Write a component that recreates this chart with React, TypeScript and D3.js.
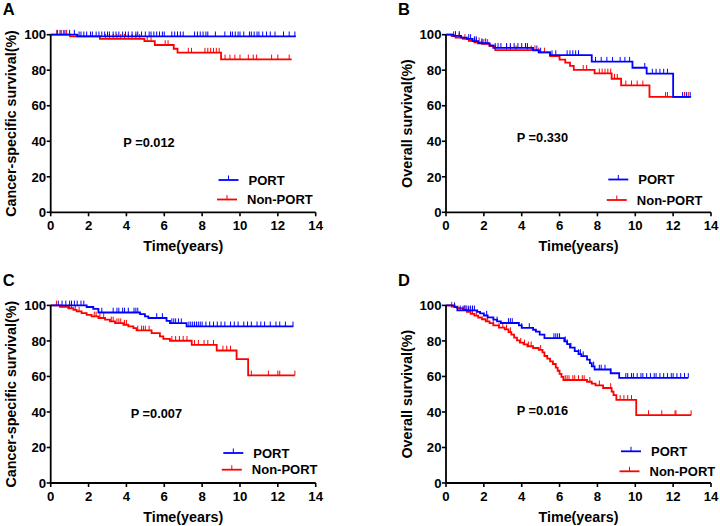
import React from 'react';
import * as d3 from 'd3';

type Step = [number, number];

// shared axis values
const xTicks = [0, 2, 4, 6, 8, 10, 12, 14];
const yTicks = [0, 20, 40, 60, 80, 100];
const seriesNames = ['PORT', 'Non-PORT'];
const panelLetters = ['A', 'B', 'C', 'D'];
const yTitles = ['Cancer-specific survival(%)', 'Overall survival(%)', 'Cancer-specific survival(%)', 'Overall survival(%)'];
const pTexts = ['P =0.012', 'P =0.330', 'P =0.007', 'P =0.016'];

// Panel A
const aPortSteps: Step[] = [[0, 100], [1.4, 99.1]];
const aPortEnd = 12.95;
const aPortCensor = [0.35, 0.55, 0.75, 1.0, 1.25, 1.5, 1.6, 1.75, 1.9, 2.1, 2.2, 2.4, 2.55, 2.7, 2.85, 3.0, 3.1, 3.3, 3.45, 3.6, 3.8, 3.95, 4.1, 4.3, 4.5, 4.6, 4.8, 5.0, 5.2, 5.3, 5.45, 5.6, 5.75, 5.9, 6.0, 6.4, 6.55, 6.7, 6.85, 7.0, 7.6, 7.75, 7.9, 8.05, 8.2, 8.3, 8.7, 9.2, 9.5, 9.6, 9.75, 9.9, 10.0, 10.2, 10.5, 10.6, 10.75, 10.9, 11.0, 11.2, 11.4, 11.6, 11.85, 12.3, 12.6, 12.9];
const aNonSteps: Step[] = [[0, 100], [1.02, 99.1], [2.6, 97.7], [4.95, 96.4], [5.5, 94.2], [6.5, 92.1], [6.7, 89.9], [9.0, 86.1]];
const aNonEnd = 12.73;
const aNonCensor = [0.32, 0.49, 0.67, 0.84, 2.9, 3.1, 3.3, 3.5, 3.7, 3.9, 4.1, 4.3, 4.5, 4.7, 5.1, 5.3, 6.05, 6.2, 7.27, 7.44, 8.15, 8.3, 8.45, 8.6, 8.75, 8.9, 9.21, 9.47, 9.73, 10.0, 10.44, 10.7, 10.88, 11.67, 12.0, 12.6];

// Panel B
const bPortSteps: Step[] = [[0, 100], [0.4, 99.3], [0.8, 98.4], [1.1, 97.6], [1.4, 96.4], [1.7, 95.2], [2.3, 94.0], [2.5, 92.6], [4.6, 91.2], [4.9, 90.0], [5.5, 88.5], [7.7, 84.8], [9.85, 81.4], [10.6, 78.1], [12.0, 65.0]];
const bPortEnd = 12.95;
const bPortCensor = [0.5, 0.7, 1.2, 1.3, 1.5, 1.6, 1.9, 2.1, 2.6, 2.75, 2.9, 3.2, 3.4, 3.6, 3.8, 4.0, 4.2, 4.3, 4.8, 5.0, 5.6, 5.8, 6.4, 6.55, 6.7, 6.85, 7.0, 7.9, 8.2, 8.5, 8.8, 9.2, 9.45, 9.7, 10.5, 10.9, 11.1, 11.3, 11.5, 11.7, 12.5, 12.7, 12.9];
const bNonSteps: Step[] = [[0, 100], [0.3, 99.2], [0.5, 98.4], [0.9, 97.6], [1.2, 96.6], [1.5, 95.7], [1.9, 94.8], [2.3, 93.6], [2.6, 91.3], [4.9, 90.0], [5.5, 88.0], [6.0, 86.0], [6.3, 84.3], [6.55, 82.5], [6.75, 80.2], [7.85, 78.2], [8.75, 75.2], [9.25, 71.5], [10.75, 65.0]];
const bNonEnd = 12.9;
const bNonCensor = [0.4, 0.7, 1.0, 1.5, 1.6, 1.75, 1.9, 2.0, 2.2, 3.2, 3.4, 3.7, 4.3, 4.5, 4.7, 4.9, 5.2, 7.25, 7.43, 8.1, 8.25, 8.4, 8.55, 8.7, 8.9, 9.05, 9.5, 9.8, 10.1, 10.4, 11.6, 11.7, 12.6, 12.8];

// Panel C
const cPortSteps: Step[] = [[0, 100], [1.9, 99.1], [2.25, 98.0], [2.52, 96.0], [4.72, 95.1], [4.98, 93.8], [5.16, 92.9], [6.12, 91.3], [6.3, 90.0], [7.18, 88.2]];
const cPortEnd = 12.82;
const cPortCensor = [0.4, 0.6, 0.8, 1.0, 1.1, 1.25, 1.4, 1.6, 1.75, 2.7, 3.3, 3.5, 3.6, 3.8, 3.9, 4.1, 4.4, 4.5, 4.6, 5.6, 5.9, 6.4, 6.5, 6.6, 6.75, 6.9, 7.3, 7.4, 7.5, 7.6, 7.7, 7.8, 7.9, 8.0, 8.2, 8.4, 8.6, 8.8, 9.0, 9.2, 9.5, 9.7, 9.9, 10.2, 10.4, 10.6, 10.9, 11.1, 11.3, 11.6, 11.9, 12.1, 12.4, 12.8];
const cNonSteps: Step[] = [[0, 100], [0.49, 99.2], [0.93, 98.4], [1.2, 97.5], [1.37, 96.6], [1.63, 95.6], [1.9, 94.7], [2.16, 93.8], [2.52, 92.9], [2.87, 92.0], [3.13, 91.0], [3.4, 90.0], [3.84, 89.1], [4.1, 88.2], [4.37, 87.2], [4.54, 85.9], [5.33, 84.4], [5.77, 82.6], [5.95, 81.2], [6.3, 80.1], [7.45, 77.8], [8.77, 74.6], [9.82, 69.8], [10.43, 60.6]];
const cNonEnd = 12.9;
const cNonCensor = [0.3, 1.0, 1.1, 1.3, 1.5, 2.3, 2.4, 2.6, 2.8, 3.2, 3.3, 3.5, 3.6, 3.7, 3.9, 4.0, 4.6, 4.8, 4.9, 5.0, 5.2, 6.4, 6.6, 6.8, 7.0, 7.2, 7.6, 7.8, 8.1, 8.3, 8.6, 9.1, 9.3, 9.5, 10.6, 11.5, 12.0, 12.1, 12.9];

// Panel D
const dPortSteps: Step[] = [[0, 100], [0.45, 99], [0.6, 97.2], [1.65, 96.3], [1.8, 95.5], [2.0, 94.3], [2.2, 93.3], [2.5, 92], [2.7, 91], [2.9, 90.1], [3.85, 88.8], [4.0, 87.3], [4.6, 86.3], [4.75, 85.2], [4.95, 83.5], [5.2, 81.6], [6.25, 79.8], [6.4, 78.2], [6.55, 76.2], [6.8, 74.3], [7.0, 72.6], [7.15, 71.4], [7.45, 69.5], [7.6, 67.5], [7.7, 65.7], [7.85, 63.9], [8.7, 61.8], [9.15, 59.2]];
const dPortEnd = 12.8;
const dPortCensor = [0.45, 0.75, 0.9, 1.0, 1.1, 1.2, 1.3, 1.4, 1.5, 2.15, 2.7, 3.3, 3.4, 3.5, 4.0, 4.4, 5.7, 5.8, 5.9, 6.0, 6.3, 6.4, 6.6, 7.0, 7.1, 7.25, 7.8, 8.1, 8.2, 8.4, 8.7, 9.5, 9.6, 9.8, 9.9, 10.1, 10.3, 10.4, 10.6, 10.8, 11.0, 11.1, 11.3, 11.5, 11.7, 11.9, 12.0, 12.2, 12.4, 12.6, 12.8];
const dNonSteps: Step[] = [[0, 100], [0.3, 99.3], [0.6, 98.5], [0.9, 97.5], [1.1, 96.3], [1.3, 95.2], [1.5, 94.2], [1.7, 93.2], [1.9, 92.2], [2.1, 91], [2.3, 90], [2.5, 88.8], [2.8, 87.5], [3.1, 86.5], [3.3, 85], [3.45, 83.5], [3.6, 81.8], [3.75, 80.3], [3.9, 79], [4.1, 78], [4.3, 77], [4.6, 76], [4.9, 75], [5.1, 73.5], [5.2, 71.5], [5.35, 70], [5.5, 68.5], [5.65, 67], [5.8, 65], [5.9, 63.2], [6.0, 61.5], [6.1, 59.8], [6.2, 58], [7.45, 57], [7.7, 56], [7.9, 55], [8.3, 53.5], [8.75, 51.5], [8.85, 49.5], [9.0, 46.8], [10.05, 38.2]];
const dNonEnd = 12.95;
const dNonCensor = [0.3, 1.0, 1.2, 1.4, 1.6, 2.2, 2.5, 2.8, 3.0, 3.2, 3.4, 3.95, 4.15, 4.35, 4.5, 5.0, 6.3, 6.4, 6.5, 6.7, 6.8, 7.0, 7.2, 7.3, 7.6, 8.1, 8.7, 9.2, 9.4, 9.6, 9.8, 10.7, 11.4, 12.1, 12.15, 12.95];

const BLUE = '#0000ff';
const RED = '#ff0000';
const FONT = '"Liberation Sans", Arial, sans-serif';

interface Curve { steps: Step[]; end: number; censor: number[]; color: string }

const survivalAt = (steps: Step[], t: number) => {
  let s = steps[0][1];
  for (const [tt, ss] of steps) if (tt <= t) s = ss;
  return s;
};

interface PanelProps {
  idx: number;
  ox: number; // x of the y-axis
  oy: number; // y of the x-axis
  curves: Curve[]; // [PORT, Non-PORT]
  legend: [number, number, number]; // line x, first row y, row gap
  pPos: [number, number];
}

const Panel: React.FC<PanelProps> = ({ idx, ox, oy, curves, legend, pPos }) => {
  const x = d3.scaleLinear().domain([0, 14]).range([ox, ox + 265]);
  const y = d3.scaleLinear().domain([0, 100]).range([oy, oy - 177.6]);
  const line = d3.line<Step>().x(d => x(d[0])).y(d => y(d[1])).curve(d3.curveStepAfter);

  // red under blue
  const drawOrder = [curves[1], curves[0]];

  return (
    <g fontFamily={FONT} fontWeight="bold">
      <text x={ox - 48} y={oy - 197} fontSize={16.5}>{panelLetters[idx]}</text>

      {drawOrder.map((c, i) => {
        const pts: Step[] = [...c.steps, [c.end, c.steps[c.steps.length - 1][1]]];
        return (
          <g key={i}>
            <path d={line(pts) || ''} fill="none" stroke={c.color} strokeWidth={1.8} />
            {c.censor.map((t, j) => {
              const s = survivalAt(c.steps, t);
              return <line key={j} x1={x(t)} x2={x(t)} y1={y(s)} y2={y(s) - 4.8} stroke={c.color} strokeWidth={1} />;
            })}
          </g>
        );
      })}

      {/* axes */}
      <line x1={ox} x2={ox} y1={y(100)} y2={oy} stroke="#000" strokeWidth={1.8} />
      <line x1={ox} x2={x(14)} y1={oy} y2={oy} stroke="#000" strokeWidth={1.8} />
      {yTicks.map(v => (
        <g key={v}>
          <line x1={ox - 4} x2={ox} y1={y(v)} y2={y(v)} stroke="#000" strokeWidth={1.6} />
          <text x={ox - 4.5} y={y(v)} dy="0.36em" textAnchor="end" fontSize={13.2}>{v}</text>
        </g>
      ))}
      {xTicks.map(v => (
        <g key={v}>
          <line x1={x(v)} x2={x(v)} y1={oy} y2={oy + 4} stroke="#000" strokeWidth={1.6} />
          <text x={x(v)} y={oy + 18} textAnchor="middle" fontSize={13.2}>{v}</text>
        </g>
      ))}
      <text x={(x(0) + x(14)) / 2} y={oy + 38.6} textAnchor="middle" fontSize={14.3}>Time(years)</text>
      <text transform={`translate(${ox - 34.5},${(y(0) + y(100)) / 2}) rotate(-90)`} textAnchor="middle" fontSize={14.3}>{yTitles[idx]}</text>

      <text x={pPos[0]} y={pPos[1]} dy="0.36em" fontSize={12.8}>{pTexts[idx]}</text>

      {/* legend */}
      {curves.map((c, i) => {
        const ly = legend[1] + i * legend[2];
        const lx = legend[0] - i * 1.5;
        return (
          <g key={i}>
            <line x1={lx} x2={lx + 20} y1={ly} y2={ly} stroke={c.color} strokeWidth={1.8} />
            <line x1={lx + 10} x2={lx + 10} y1={ly} y2={ly - 4.5} stroke={c.color} strokeWidth={1} />
            <text x={lx + 30} y={ly} dy="0.36em" fontSize={13}>{seriesNames[i]}</text>
          </g>
        );
      })}
    </g>
  );
};

export default function App() {
  return (
    <svg width={720} height={526} style={{ position: 'absolute', left: 0, top: 0, background: '#fff' }}>
      <rect width={720} height={526} fill="#fff" />
      <Panel idx={0} ox={50.7} oy={212.3}
        curves={[{ steps: aPortSteps, end: aPortEnd, censor: aPortCensor, color: BLUE }, { steps: aNonSteps, end: aNonEnd, censor: aNonCensor, color: RED }]}
        legend={[218.5, 180, 19.5]} pPos={[123.3, 142]} />
      <Panel idx={1} ox={446} oy={212.3}
        curves={[{ steps: bPortSteps, end: bPortEnd, censor: bPortCensor, color: BLUE }, { steps: bNonSteps, end: bNonEnd, censor: bNonCensor, color: RED }]}
        legend={[608.3, 179.5, 20.5]} pPos={[516.7, 137]} />
      <Panel idx={2} ox={50.7} oy={483}
        curves={[{ steps: cPortSteps, end: cPortEnd, censor: cPortCensor, color: BLUE }, { steps: cNonSteps, end: cNonEnd, censor: cNonCensor, color: RED }]}
        legend={[223.3, 453, 16.7]} pPos={[130.7, 413]} />
      <Panel idx={3} ox={446} oy={483}
        curves={[{ steps: dPortSteps, end: dPortEnd, censor: dPortCensor, color: BLUE }, { steps: dNonSteps, end: dNonEnd, censor: dNonCensor, color: RED }]}
        legend={[621, 451.3, 20]} pPos={[516.7, 410.3]} />
    </svg>
  );
}
